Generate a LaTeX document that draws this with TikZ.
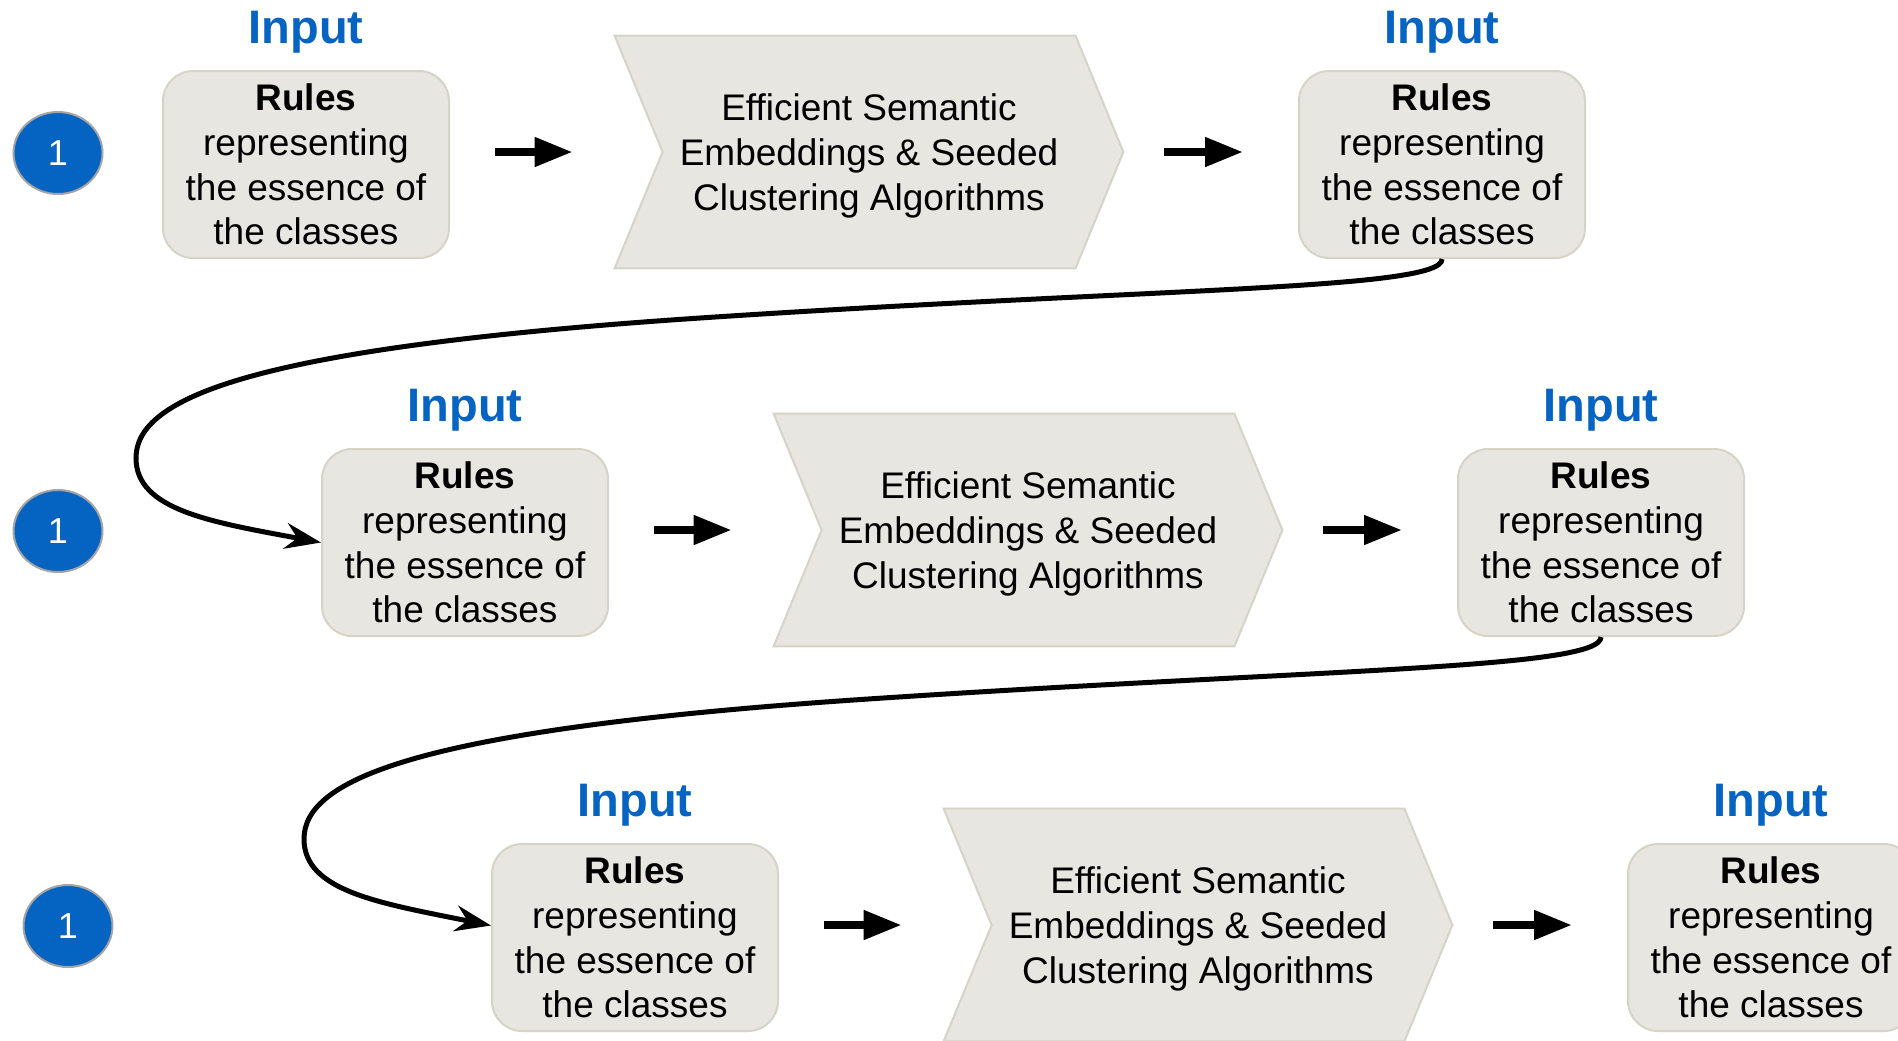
\documentclass[tikz,border=0pt]{standalone}
\usepackage{fontspec}
\setmainfont{Liberation Sans}
\usetikzlibrary{arrows.meta,backgrounds,calc,shapes.geometric}
\definecolor{inblue}{RGB}{5,99,193}
\definecolor{boxfill}{RGB}{232,230,224}
\definecolor{boxline}{RGB}{214,211,199}
\definecolor{ringgray}{RGB}{165,165,165}
\newcommand\chevronbg[1]{%
  \begin{scope}[on background layer]
    \path[chevshape] ([yshift=2pt]#1.north west) -- ([xshift=-24pt,yshift=2pt]#1.north east)
      -- ([yshift=2pt]#1.east) -- ([xshift=-24pt,yshift=2pt]#1.south east)
      -- ([yshift=2pt]#1.south west) -- ([xshift=24pt,yshift=2pt]#1.west) -- cycle;
  \end{scope}}
\begin{document}
\begin{tikzpicture}[x=0.5pt,y=-0.5pt,
  inlab/.style={text=inblue,font=\fontsize{23.5pt}{28pt}\selectfont\bfseries,anchor=base,inner sep=0pt},
  rulebox/.style={draw=boxline,line width=1pt,fill=boxfill,rounded corners=15pt,
    minimum width=143pt,minimum height=93.5pt,inner sep=0pt,align=center,
    font=\fontsize{18.5pt}{22.4pt}\selectfont},
  chevnode/.style={minimum width=254pt,minimum height=116pt,inner sep=0pt,align=center,
    font=\fontsize{18.5pt}{22.6pt}\selectfont},
  chevshape/.style={fill=boxfill,draw=boxline,line width=1pt},
  numdot/.style={ellipse,minimum width=44.5pt,minimum height=41pt,inner sep=0pt,
    fill=inblue,draw=ringgray,line width=1pt,text=white,font=\fontsize{18pt}{18pt}\selectfont},
  flowarr/.style={line width=3.85pt,-{Triangle[length=19pt,width=14pt]}},
  looparr/.style={line width=2.5pt,-{Stealth[length=18pt,width=13pt,inset=6pt]}}]

\useasboundingbox (0,0) rectangle (1898,1040);

% circles
\node[numdot] (n1) at (58,153) {1};
\node[numdot] (n2) at (58,531) {1};
\node[numdot] (n3) at (68,926) {1};

% row 1
\node[inlab] (lab1) at (306,43) {Input};
\node[rulebox] (b1) at (306,164.5) {\textbf{Rules}\\representing\\the essence of\\the classes};
\node[chevnode] (c1) at (869,156) {Efficient Semantic\\Embeddings \& Seeded\\Clustering Algorithms};
\chevronbg{c1}
\node[inlab] (lab2) at (1442,43) {Input};
\node[rulebox] (b2) at (1442,164.5) {\textbf{Rules}\\representing\\the essence of\\the classes};

% row 2
\node[inlab] (lab3) at (465,421) {Input};
\node[rulebox] (b3) at (465,542.5) {\textbf{Rules}\\representing\\the essence of\\the classes};
\node[chevnode] (c2) at (1028,534) {Efficient Semantic\\Embeddings \& Seeded\\Clustering Algorithms};
\chevronbg{c2}
\node[inlab] (lab4) at (1601,421) {Input};
\node[rulebox] (b4) at (1601,542.5) {\textbf{Rules}\\representing\\the essence of\\the classes};

% row 3
\node[inlab] (lab5) at (635,816) {Input};
\node[rulebox] (b5) at (635,937.5) {\textbf{Rules}\\representing\\the essence of\\the classes};
\node[chevnode] (c3) at (1198,929) {Efficient Semantic\\Embeddings \& Seeded\\Clustering Algorithms};
\chevronbg{c3}
\node[inlab] (lab6) at (1771,816) {Input};
\node[rulebox] (b6) at (1771,937.5) {\textbf{Rules}\\representing\\the essence of\\the classes};

% straight arrows (at the chevron's mid-height)
\draw[flowarr] ($(b1.east |- c1.west)+(45,-4)$) -- ($(c1.west)+(-42,-4)$);
\draw[flowarr] ($(c1.east)+(41,-4)$) -- ($(b2.west |- c1.east)+(-55,-4)$);
\draw[flowarr] ($(b3.east |- c2.west)+(45,-4)$) -- ($(c2.west)+(-42,-4)$);
\draw[flowarr] ($(c2.east)+(41,-4)$) -- ($(b4.west |- c2.east)+(-55,-4)$);
\draw[flowarr] ($(b5.east |- c3.west)+(45,-4)$) -- ($(c3.west)+(-42,-4)$);
\draw[flowarr] ($(c3.east)+(41,-4)$) -- ($(b6.west |- c3.east)+(-55,-4)$);

% loop-back connectors
\draw[looparr] (b2.south) .. controls (1443,290) and (1150,288) .. (700,318)
  .. controls (250,348) and (136,398) .. (136,458)
  .. controls (136,510) and (211,522) .. (b3.west);
\draw[looparr] (b4.south) .. controls (1601,669) and (1318,669) .. (868,699)
  .. controls (418,729) and (304,779) .. (304,839)
  .. controls (304,891) and (379,903) .. ([yshift=6pt]b5.west);
\end{tikzpicture}
\end{document}
